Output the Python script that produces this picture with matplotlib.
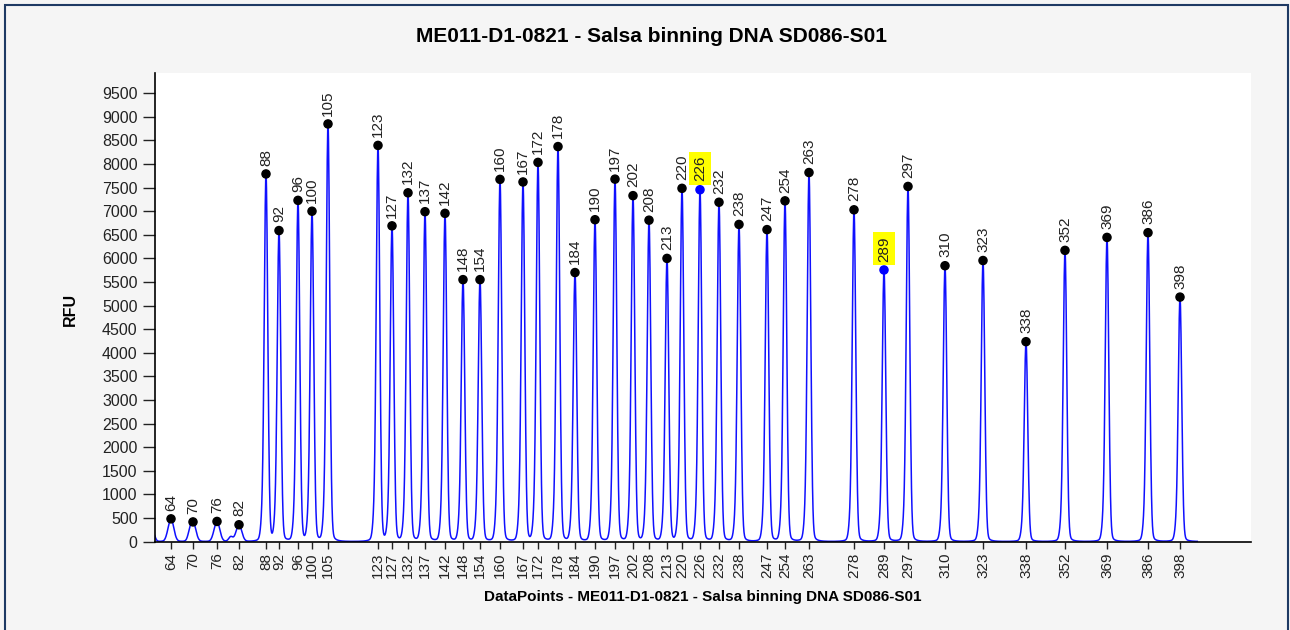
#!/usr/bin/env python
'''
Electroferograma de binning (Salsa DNA SD086-S01)
Picos etiquetados con su tamaño en pares de bases
'''

import numpy as np
import matplotlib.pyplot as plt
from matplotlib.patches import Rectangle

# Tamaño de cada pico (pb), posición en datapoints y altura en RFU
sizes = [64, 70, 76, 82, 88, 92, 96, 100, 105,
         123, 127, 132, 137, 142, 148, 154, 160, 167, 172, 178,
         184, 190, 197, 202, 208, 213, 220, 226, 232, 238, 247,
         254, 263, 278, 289, 297, 310, 323, 338, 352, 369, 386, 398]

positions = [1064, 1152, 1248, 1336, 1444, 1496, 1572, 1628, 1692,
             1892, 1948, 2012, 2080, 2160, 2232, 2300, 2380, 2472, 2532, 2612,
             2680, 2760, 2840, 2912, 2976, 3048, 3108, 3180, 3256, 3336, 3448,
             3520, 3616, 3796, 3916, 4012, 4160, 4312, 4484, 4640, 4808, 4972, 5100]

heights = [480, 415, 425, 355, 7790, 6590, 7230, 7000, 8850,
           8395, 6690, 7390, 6990, 6955, 5550, 5550, 7675, 7620, 8035, 8370,
           5700, 6820, 7680, 7330, 6810, 6000, 7485, 7455, 7190, 6720, 6610,
           7220, 7820, 7030, 5755, 7525, 5845, 5955, 4235, 6170, 6445, 6545, 5180]

# Picos marcados (resaltados en amarillo)
highlighted = [226, 289]

# Picos chicos sin etiqueta
minor_positions = [990, 1140, 1303]
minor_heights = [240, 90, 100]

title = 'ME011-D1-0821 - Salsa binning DNA SD086-S01'
xlabel = 'DataPoints - ME011-D1-0821 - Salsa binning DNA SD086-S01'
ylabel = 'RFU'


def peak(x, pos, h, s):
    # Forma del pico: nucleo gaussiano con cola un poco mas ancha
    d = x - pos
    core = 0.92 * np.exp(-d ** 2 / (2 * s ** 2))
    tail = 0.08 / (1 + (d / (1.7 * s)) ** 2) * np.exp(-np.abs(d) / 50)
    return h * (core + tail)


def build_trace():
    x = np.arange(980, 5170)
    y = np.zeros(len(x))
    for p, h in zip(positions, heights):
        s = 11 if h < 1000 else 7
        y += peak(x, p, h, s)
        # stutter a la izquierda del pico
        y += 0.035 * h * np.exp(-(x - (p - 16)) ** 2 / (2 * 6 ** 2))
    for p, h in zip(minor_positions, minor_heights):
        y += peak(x, p, h, 8)
    return x, y


if __name__ == '__main__':
    plt.rcParams['font.family'] = ['Liberation Sans', 'DejaVu Sans']

    fig = plt.figure(figsize=(12.9, 6.3), dpi=100, facecolor='#f5f5f5')
    ax = fig.add_axes([155 / 1290, 1 - 541.5 / 630, 1096 / 1290, 469 / 630])
    ax.set_facecolor('white')

    x, y = build_trace()
    ax.plot(x, y, color='#1010ff', lw=1.1, zorder=2)

    colors = ['#0000ff' if s in highlighted else 'black' for s in sizes]
    ax.scatter(positions, heights, s=34, c=colors, zorder=3, clip_on=False)

    for s, p, h in zip(sizes, positions, heights):
        box = None
        if s in highlighted:
            box = dict(boxstyle='square,pad=0.25', facecolor='#ffff00', edgecolor='none')
        ax.annotate(str(s), (p, h), xytext=(0, 6), textcoords='offset points',
                    rotation=90, ha='center', va='bottom', fontsize=11,
                    color='#222222', bbox=box, zorder=4)

    ax.set_xlim(1000, 5384)
    ax.set_ylim(0, 9940)
    ax.spines['top'].set_visible(False)
    ax.spines['right'].set_visible(False)
    ax.spines['left'].set_linewidth(1.2)
    ax.spines['bottom'].set_linewidth(1.2)

    ax.set_yticks(range(0, 10000, 500))
    ax.set_xticks(positions, labels=[str(s) for s in sizes])
    ax.tick_params(axis='y', length=8.5, width=1, pad=4, labelsize=11.5, colors='#222222')
    ax.tick_params(axis='x', length=5, width=1, pad=3, labelsize=11,
                   labelrotation=90, colors='#222222')

    fig.text(652 / 1290, 1 - 37 / 630, title, ha='center', va='center',
             fontsize=15, fontweight='bold')
    fig.text(703 / 1290, 1 - 597 / 630, xlabel, ha='center', va='center',
             fontsize=11, fontweight='bold')
    fig.text(70 / 1290, 1 - 309 / 630, ylabel, ha='center', va='center',
             rotation=90, fontsize=11.5, fontweight='bold')

    # Marco exterior
    fig.patches.append(Rectangle((5 / 1290, -0.01), 1283 / 1290, 1.01 - 5 / 630,
                                 transform=fig.transFigure, fill=False,
                                 edgecolor='#1e3a64', lw=1.5))

    fig.savefig('out.png', dpi=100, facecolor=fig.get_facecolor())
